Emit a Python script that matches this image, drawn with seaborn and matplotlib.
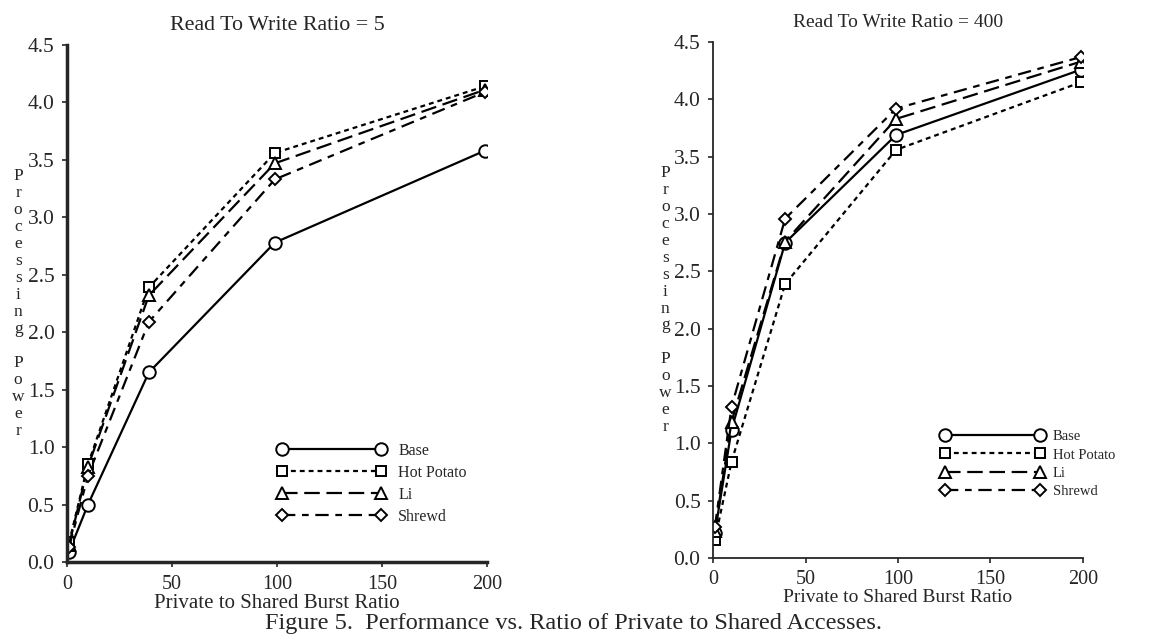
import matplotlib
matplotlib.use("Agg")
import matplotlib.pyplot as plt
import seaborn as sns
import pandas as pd

# burst ratio (x) shared by both panels
burst_ratio = [1, 10, 39, 99, 199]

# Read To Write Ratio = 5
base_5 = [0.09, 0.50, 1.65, 2.78, 3.58]
hot_potato_5 = [0.17, 0.85, 2.39, 3.56, 4.14]
li_5 = [0.15, 0.83, 2.32, 3.47, 4.11]
shrewd_5 = [0.13, 0.75, 2.09, 3.33, 4.09]

# Read To Write Ratio = 400
base_400 = [0.22, 1.12, 2.75, 3.69, 4.26]
hot_potato_400 = [0.16, 0.84, 2.39, 3.56, 4.15]
li_400 = [0.24, 1.19, 2.76, 3.83, 4.33]
shrewd_400 = [0.27, 1.32, 2.96, 3.92, 4.37]

algorithms = ["Base", "Hot Potato", "Li", "Shrewd"]
x_ticks = [0, 50, 100, 150, 200]
y_ticks = [0.0, 0.5, 1.0, 1.5, 2.0, 2.5, 3.0, 3.5, 4.0, 4.5]

sns.set_style("ticks")
plt.rcParams["font.family"] = ["Liberation Serif", "DejaVu Serif"]

styles = {
    "Base": dict(marker="o", linestyle="-", markersize=9),
    "Hot Potato": dict(marker="s", linestyle=(0, (2.2, 1.8)), markersize=7.5),
    "Li": dict(marker="^", linestyle=(0, (7, 3)), markersize=8),
    "Shrewd": dict(marker="D", linestyle=(0, (6, 3, 3, 3)), markersize=6.5),
}


def draw_panel(ax, series, title, spine_w, cfg):
    for name, vals in zip(algorithms, series):
        df = pd.DataFrame({"ratio": burst_ratio, "power": vals})
        st = styles[name]
        sns.lineplot(data=df, x="ratio", y="power", ax=ax, color="black",
                     linewidth=1.6, marker=st["marker"], linestyle=st["linestyle"],
                     markersize=st["markersize"], markerfacecolor="white",
                     markeredgecolor="black", markeredgewidth=1.4,
                     label=name, legend=False)
    ax.set_xlim(0, 200)
    ax.set_ylim(0, 4.5)
    ax.set_xticks(x_ticks)
    ax.set_yticks(y_ticks)
    ax.set_yticklabels([f"{v:.1f}" for v in y_ticks])
    ax.tick_params(axis="y", labelsize=15.5, length=3.5, width=1.2, pad=5.5)
    ax.tick_params(axis="x", labelsize=14.5, length=3.5, width=1.2, pad=cfg["xpad"])
    for s in ("top", "right"):
        ax.spines[s].set_visible(False)
    for s in ("left", "bottom"):
        ax.spines[s].set_linewidth(spine_w)
    ax.set_title(title, fontsize=cfg["tfs"], pad=cfg["tpad"])
    ax.set_xlabel("Private to Shared Burst Ratio", fontsize=cfg["xl"], labelpad=0)
    ax.set_ylabel("\n".join("Processing Power"), rotation=0, fontsize=12.5,
                  linespacing=1.08, va="center", ha="center", labelpad=cfg["ypad"])
    ax.legend(loc="upper left", bbox_to_anchor=cfg["anchor"], frameon=False,
              numpoints=2, handlelength=cfg["hl"], handletextpad=cfg["tp"],
              labelspacing=cfg["ls"], fontsize=cfg["fs"], borderpad=0,
              borderaxespad=0)


fig = plt.figure(figsize=(11.63, 6.36), dpi=100)
ax1 = fig.add_axes([0.0576, 0.1164, 0.3611, 0.8129])
ax2 = fig.add_axes([0.6131, 0.1226, 0.3181, 0.8113])

draw_panel(ax1, [base_5, hot_potato_5, li_5, shrewd_5], "Read To Write Ratio = 5", 2.5,
           dict(anchor=(0.5, 0.23), hl=6.8, tp=0.8, ls=0.37, fs=11.5, xl=15,
                tfs=15.8, tpad=11, xpad=6, ypad=6.7))
draw_panel(ax2, [base_400, hot_potato_400, li_400, shrewd_400], "Read To Write Ratio = 400", 1.3,
           dict(anchor=(0.615, 0.248), hl=7.1, tp=0.6, ls=0.35, fs=10.5, xl=14,
                tfs=14, tpad=11, xpad=5, ypad=6))

fig.text(0.493, 0.02, "Figure 5.  Performance vs. Ratio of Private to Shared Accesses.",
         ha="center", va="center", fontsize=17.5)

plt.savefig("out.png", dpi=100, facecolor="white")
plt.close()
